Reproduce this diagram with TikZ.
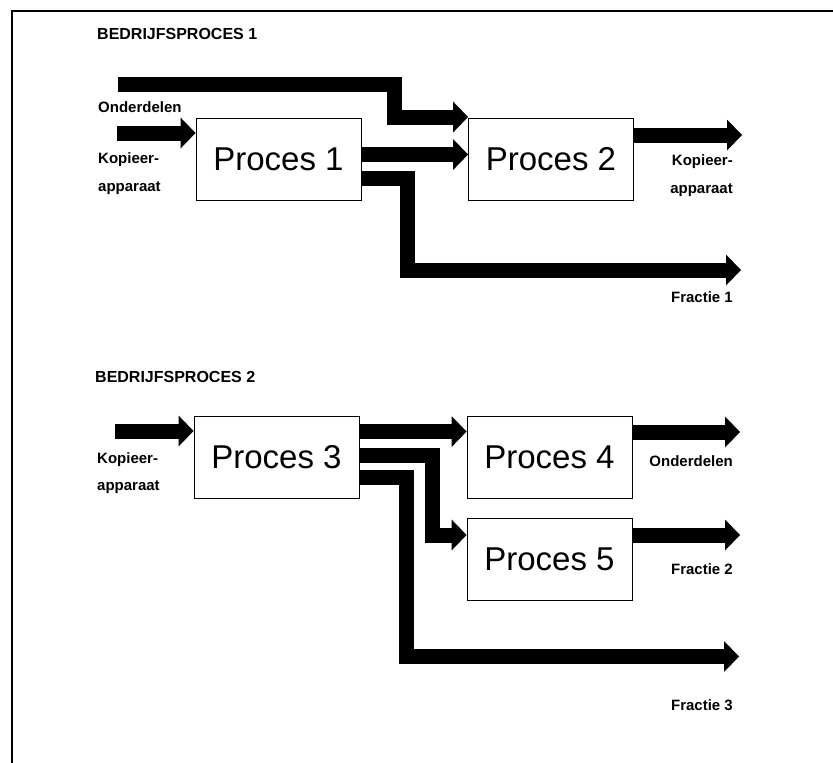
\documentclass[tikz,border=0pt]{standalone}
\usepackage{fontspec}
\setmainfont{Liberation Sans}
\usetikzlibrary{arrows.meta,calc}
\begin{document}
\begin{tikzpicture}[x=1pt,y=-1pt,
  procbox/.style={draw,line width=0.9pt,minimum width=165pt,minimum height=82pt,
    inner sep=0pt,font=\fontsize{33}{33}\selectfont},
  flow/.style={line width=15pt,miter limit=10,
    -{Triangle[length=15pt,width=31pt,line width=0pt]}},
  lbl/.style={inner sep=0pt,font=\fontsize{15}{15}\selectfont\bfseries},
  ttl/.style={inner sep=0pt,anchor=west,font=\fontsize{16}{16}\selectfont\bfseries}]
\useasboundingbox (0,0) rectangle (833,763);
% frame
\draw[line width=1.5pt] (12,763) -- (12,11) -- (833,11);

% ---- first process chain
\node[ttl] (t1) at (97,33.5) {BEDRIJFSPROCES 1};
\node[procbox] (p1) at (278.5,159) {Proces 1};
\node[procbox] (p2) at (551,159) {Proces 2};

\coordinate (a1) at (118,84);
\coordinate (b1) at (117,133);
\node[lbl,anchor=west] (l1) at (98,107) {Onderdelen};
\node[lbl,anchor=west] (l2) at (98,160) {Kopieer-};
\node[lbl,anchor=west] (l3) at (98,188) {apparaat};

% incoming parts, bent down onto the top corner of Proces 2
\draw[flow] (a1) -- (394,84) |- (p2.west |- 0,117);
\draw[flow] (b1) -- (p1.west |- b1);
\coordinate (o1) at ($(p1.north east)+(0,37)$);
\draw[flow] (o1) -- (p2.west |- o1);
\coordinate (o2) at ($(p1.north east)+(0,61)$);
\coordinate (e1) at (741,270);
\draw[flow] (o2) -| (407.5,270) -- (e1);
\coordinate (e2) at (742,135);
\draw[flow] (p2.east |- e2) -- (e2);

\node[lbl,anchor=east] (r1) at (733,162) {Kopieer-};
\node[lbl,anchor=east] (r2) at (733,190) {apparaat};
\node[lbl,anchor=east] (r3) at (733,297) {Fractie 1};

% ---- second process chain
\node[ttl] (t2) at (95,377) {BEDRIJFSPROCES 2};
\node[procbox] (p3) at (276.5,457) {Proces 3};
\node[procbox] (p4) at (549.5,457) {Proces 4};
\node[procbox] (p5) at (549.5,559) {Proces 5};

\coordinate (c1) at (115,431);
\node[lbl,anchor=west] (k1) at (97,460) {Kopieer-};
\node[lbl,anchor=west] (k2) at (97,487) {apparaat};

\draw[flow] (c1) -- (p3.west |- c1);
\coordinate (q1) at ($(p3.north east)+(0,16)$);
\draw[flow] (q1) -- (p4.west |- q1);
\coordinate (q2) at ($(p3.north east)+(0,40)$);
\draw[flow] (q2) -| (432.5,535) -- (p5.west |- 0,535);
\coordinate (q3) at ($(p3.north east)+(0,62)$);
\coordinate (e3) at (739,656.5);
\draw[flow] (q3) -| (406,656.5) -- (e3);
\coordinate (e4) at (740,432);
\draw[flow] (p4.east |- e4) -- (e4);
\coordinate (e5) at (740,535);
\draw[flow] (p5.east |- e5) -- (e5);

\node[lbl,anchor=east] (s1) at (733,461) {Onderdelen};
\node[lbl,anchor=east] (s2) at (733,569) {Fractie 2};
\node[lbl,anchor=east] (s3) at (733,705) {Fractie 3};
\end{tikzpicture}
\end{document}
